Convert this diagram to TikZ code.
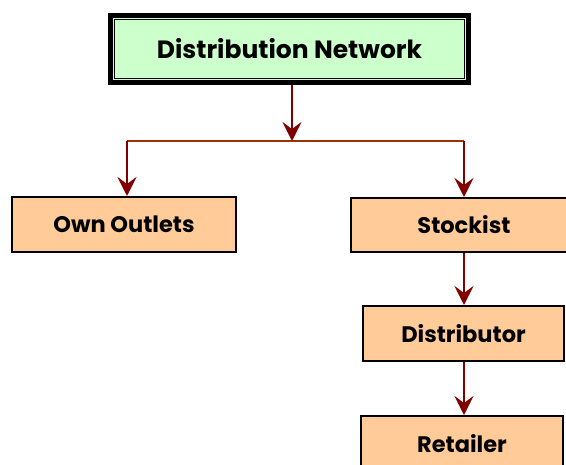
\documentclass[tikz,border=0pt]{standalone}
\usepackage{fontspec}
\setmainfont{Poppins}
\usetikzlibrary{arrows.meta}
\definecolor{boxfill}{HTML}{FFCC99}
\definecolor{titlefill}{HTML}{CCFFCC}
\definecolor{arrowred}{HTML}{800000}
\definecolor{barbrown}{HTML}{993300}
\tikzset{
  stagebox/.style={draw=black, line width=2pt, fill=boxfill, inner sep=0pt,
    font=\fontsize{22.5}{26}\selectfont\bfseries},
  titlebox/.style={draw=black, line width=5pt, fill=titlefill, inner sep=0pt,
    minimum width=358pt, minimum height=67pt,
    font=\fontsize{25}{29}\selectfont\bfseries},
  flow/.style={draw=arrowred, line width=2pt,
    -{Stealth[length=19pt, width=19pt, inset=7pt]}},
  bar/.style={draw=barbrown, line width=2pt},
}
\begin{document}
\begin{tikzpicture}[x=1pt, y=-1pt]
\useasboundingbox (0,0) rectangle (566,465);
\node[titlebox] (title) at (289.5,49) {Distribution Network};
\draw[line width=1.5pt] ([shift={(6.5,6.5)}]title.north west) rectangle ([shift={(-6.5,-6.5)}]title.south east);
\node[stagebox, minimum width=224pt, minimum height=55pt] (own) at (124,224.5) {Own Outlets};
\node[stagebox, minimum width=226pt, minimum height=54pt] (stock) at (464,225) {Stockist};
\node[stagebox, minimum width=201pt, minimum height=55pt] (dist) at (463.5,333.5) {Distributor};
\node[stagebox, minimum width=202pt, minimum height=55pt] (ret) at (462,443.5) {Retailer};
\coordinate (j) at (292,141);
\coordinate (jl) at (127,141);
\coordinate (jr) at (464,141);
\draw[bar] (jl) -- (jr);
\draw[flow] (title.south -| j) -- (j);
\draw[flow] (jl) -- (own.north -| jl);
\draw[flow] (jr) -- (stock.north -| jr);
\draw[flow] (stock.south -| jr) -- (dist.north -| jr);
\draw[flow] (dist.south -| jr) -- (ret.north -| jr);
\end{tikzpicture}
\end{document}
